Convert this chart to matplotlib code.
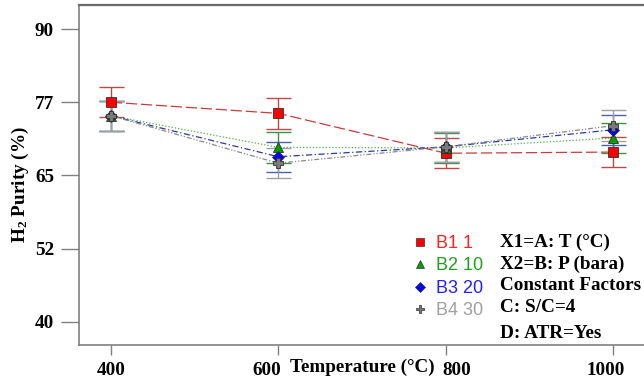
import matplotlib

matplotlib.use("Agg")
import matplotlib.pyplot as plt
import matplotlib.transforms as mtransforms
from matplotlib.lines import Line2D

plt.rcParams["font.family"] = ["Liberation Serif", "DejaVu Serif"]
plt.rcParams["mathtext.fontset"] = "custom"
plt.rcParams["mathtext.rm"] = "Liberation Serif:bold"
plt.rcParams["mathtext.it"] = "Liberation Serif:bold"
plt.rcParams["mathtext.bf"] = "Liberation Serif:bold"

# ---------------------------------------------------------------------------
# Data
# ---------------------------------------------------------------------------
temperature = [400, 600, 800, 1000]
series_names = ["B1 1", "B2 10", "B3 20", "B4 30"]
b1 = [77.5, 75.6, 68.8, 69.0]
b2 = [75.2, 69.8, 69.7, 71.4]
b3 = [75.2, 68.2, 69.9, 72.8]
b4 = [75.2, 67.1, 69.9, 73.5]
err_half = [2.6, 2.6, 2.6, 2.6]

ytick_pos = [40, 52.5, 65, 77.5, 90]
ytick_labels = ["40", "52", "65", "77", "90"]
factor_notes = ["X1=A: T (°C)", "X2=B: P (bara)", "Constant Factors", "C: S/C=4", "D: ATR=Yes"]
note_rows_px = [242, 264, 286, 308, 333]
# the x tick labels sit a little off their ticks in the original (room for the axis title)
xlabel_shift_px = [0, -12, 11, -7]

styles = [
    # marker, face, line color, err color, dashes, text color
    ("s", "#ff0000", "#c83c3c", "#c04848", (9, 3), "#ff2020"),
    ("^", "#00a000", "#50b050", "#3c963c", (1, 1.6), "#20a020"),
    ("D", "#0000ff", "#2a3aa0", "#5060a8", (5, 2, 1, 2), "#2020ff"),
    ("P", "#7a7a7a", "#8a8a8a", "#a0a0a0", (4, 1.5, 1, 1.5, 1, 1.5), "#a0a0a0"),
]
FS = 13.8

fig = plt.figure(figsize=(6.44, 3.82), dpi=100)
ax = fig.add_axes([79 / 644, 1 - 345 / 382, 1 - 79 / 644, (345 - 5) / 382])

for ys, (mk, face, lc, ec, dash, _) in zip([b1, b2, b3, b4], styles):
    ax.errorbar(temperature, ys, yerr=err_half, fmt="none", ecolor=ec,
                elinewidth=1.0, capsize=9, capthick=1.0, zorder=2)
    ax.plot(temperature, ys, color=lc, lw=0.9, dashes=dash, zorder=3)
    ax.plot(temperature, ys, linestyle="none", marker=mk, markersize=7.5 if mk != "D" else 6,
            markerfacecolor=face, markeredgecolor="#303030", markeredgewidth=0.6, zorder=4)

ax.set_xlim(361.8, 1037)
ax.set_ylim(36.07, 94.1)
ax.set_xticks(temperature)
ax.set_xticklabels([str(t) for t in temperature])
ax.set_yticks(ytick_pos)
ax.set_yticklabels(ytick_labels)

for side in ["left", "bottom", "top"]:
    ax.spines[side].set_color("#808080")
    ax.spines[side].set_linewidth(1.2)
ax.spines["top"].set_color("#6a6a6a")
ax.spines["top"].set_linewidth(1.6)
ax.spines["right"].set_visible(False)

ax.tick_params(axis="y", direction="out", length=13, width=1.0, color="#808080", pad=5)
ax.tick_params(axis="x", direction="out", length=7, width=1.0, color="#808080", pad=5)
for lab in ax.get_xticklabels() + ax.get_yticklabels():
    lab.set_fontsize(FS)
    lab.set_fontweight("bold")
for lab, dx in zip(ax.get_xticklabels(), xlabel_shift_px):
    lab.set_transform(lab.get_transform()
                      + mtransforms.ScaledTranslation(dx / 100, 0, fig.dpi_scale_trans))

fig.text(362 / 644, 1 - 367 / 382, "Temperature (°C)", ha="center", va="center",
         fontsize=FS, fontweight="bold")
fig.text(20 / 644, 1 - 185 / 382, "H$_2$ Purity (%)", ha="center", va="center",
         rotation=90, fontsize=FS, fontweight="bold")

handles = [
    Line2D([], [], linestyle="none", marker=mk, markersize=6 if mk != "D" else 5,
           markerfacecolor=face, markeredgecolor="#303030", markeredgewidth=0.5)
    for mk, face, *_ in styles
]
leg = ax.legend(handles, series_names, loc="upper left",
                bbox_to_anchor=(411 / 644, 1 - 235 / 382), bbox_transform=fig.transFigure,
                frameon=False, handlelength=0.95, handletextpad=0.45, borderpad=0,
                borderaxespad=0, labelspacing=0.3,
                prop={"family": "Liberation Sans", "size": 13})
for txt, st in zip(leg.get_texts(), styles):
    txt.set_color(st[5])

for note, row in zip(factor_notes, note_rows_px):
    fig.text(500 / 644, 1 - row / 382, note, ha="left", va="center",
             fontsize=FS, fontweight="bold")

fig.savefig("out.png", dpi=100)
